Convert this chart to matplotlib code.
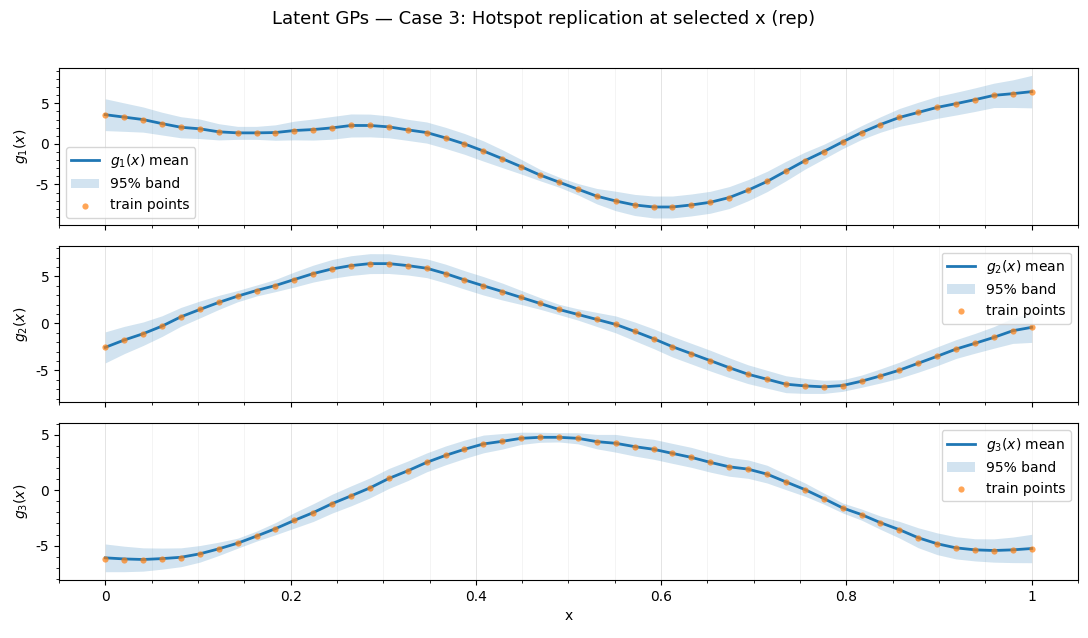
"""Latent GP posterior panels for case 3 (hotspot replication)."""

import matplotlib
matplotlib.use("Agg")
import matplotlib.pyplot as plt
import numpy as np
from matplotlib.ticker import AutoMinorLocator, FuncFormatter, MultipleLocator

plt.rcParams["axes.unicode_minus"] = False

# 50 training inputs on [0, 1]
X_TRAIN = np.linspace(0.0, 1.0, 50)

G1_MEAN = [3.6, 3.3, 3.0, 2.5, 2.05, 1.86, 1.49, 1.36, 1.36, 1.4,
           1.65, 1.77, 1.98, 2.27, 2.27, 2.1, 1.73, 1.40, 0.74, 0.0,
           -0.87, -1.82, -2.81, -3.84, -4.71, -5.58, -6.44, -7.03, -7.52, -7.77,
           -7.77, -7.52, -7.19, -6.61, -5.70, -4.63, -3.35, -2.07, -0.95, 0.25,
           1.40, 2.39, 3.26, 3.88, 4.50, 4.96, 5.45, 5.98, 6.19, 6.44]
G1_HALF = [1.96, 1.75, 1.55, 1.4, 1.3, 1.2, 1.0, 0.8, 0.8, 0.95,
           1.15, 1.3, 1.4, 1.42, 1.4, 1.35, 1.3, 1.3, 1.3, 1.28,
           1.25, 1.1, 0.9, 0.7, 0.62, 0.7, 0.95, 1.2, 1.3, 1.35,
           1.35, 1.35, 1.35, 1.35, 1.3, 1.25, 1.2, 1.05, 0.9, 0.83,
           0.85, 0.95, 1.1, 1.25, 1.35, 1.4, 1.45, 1.5, 1.7, 2.0]

G2_MEAN = [-2.55, -1.77, -1.1, -0.29, 0.70, 1.48, 2.23, 2.9, 3.5, 4.03,
           4.67, 5.3, 5.8, 6.15, 6.36, 6.36, 6.15, 5.87, 5.3, 4.63,
           4.0, 3.39, 2.76, 2.12, 1.48, 0.95, 0.42, -0.11, -0.85, -1.63,
           -2.48, -3.22, -3.96, -4.71, -5.41, -5.94, -6.47, -6.65, -6.75, -6.61,
           -6.15, -5.59, -4.98, -4.24, -3.5, -2.73, -2.12, -1.49, -0.78, -0.42]
G2_HALF = [1.65, 1.45, 1.25, 1.1, 1.0, 0.9, 0.75, 0.6, 0.58, 0.65,
           0.8, 0.9, 1.0, 1.05, 1.06, 1.05, 1.0, 1.0, 1.0, 0.98,
           0.98, 0.9, 0.75, 0.62, 0.55, 0.6, 0.75, 0.9, 1.0, 1.05,
           1.1, 1.1, 1.1, 1.05, 1.0, 0.95, 0.9, 0.8, 0.7, 0.62,
           0.65, 0.75, 0.85, 0.95, 1.0, 1.0, 1.05, 1.15, 1.35, 1.6]

G3_MEAN = [-6.1, -6.2, -6.25, -6.17, -6.05, -5.74, -5.29, -4.78, -4.14, -3.47,
           -2.72, -2.02, -1.21, -0.51, 0.21, 1.06, 1.75, 2.51, 3.14, 3.69,
           4.17, 4.41, 4.68, 4.77, 4.77, 4.68, 4.38, 4.23, 3.93, 3.69,
           3.32, 2.96, 2.51, 2.11, 1.90, 1.45, 0.75, 0.06, -0.75, -1.6,
           -2.2, -2.93, -3.56, -4.29, -4.83, -5.2, -5.38, -5.44, -5.38, -5.26]
G3_HALF = [1.25, 1.15, 1.05, 0.95, 0.85, 0.75, 0.6, 0.45, 0.45, 0.55,
           0.7, 0.8, 0.85, 0.9, 0.9, 0.9, 0.88, 0.85, 0.85, 0.83,
           0.8, 0.7, 0.55, 0.45, 0.42, 0.5, 0.65, 0.8, 0.85, 0.9,
           0.9, 0.9, 0.88, 0.85, 0.83, 0.8, 0.7, 0.6, 0.5, 0.45,
           0.5, 0.6, 0.75, 0.9, 0.98, 1.0, 1.0, 1.05, 1.15, 1.28]

# observed training values (sit on the posterior mean at this scale)
G1_TRAIN = list(G1_MEAN)
G2_TRAIN = list(G2_MEAN)
G3_TRAIN = [-6.19, -6.28, -6.28, -6.17, -6.1] + G3_MEAN[5:]

PANELS = [
    ("1", G1_MEAN, G1_HALF, G1_TRAIN, "lower left", (-9.95, 9.35)),
    ("2", G2_MEAN, G2_HALF, G2_TRAIN, "upper right", (-8.4, 8.27)),
    ("3", G3_MEAN, G3_HALF, G3_TRAIN, "upper right", (-8.1, 6.03)),
]


def main() -> None:
    fig, axes = plt.subplots(3, 1, figsize=(10.88, 6.38), dpi=100, sharex=True)
    fig.subplots_adjust(left=0.0542, right=0.9908, top=0.8934, bottom=0.0909,
                        hspace=0.134)

    fmt = FuncFormatter(lambda v, _: f"{v:g}")
    for ax, (k, mean, half, train, loc, ylim) in zip(axes, PANELS):
        mean = np.asarray(mean)
        half = np.asarray(half)
        ax.plot(X_TRAIN, mean, color="#1f77b4", linewidth=2.0,
                label=rf"$g_{k}(x)$ mean", zorder=3)
        ax.fill_between(X_TRAIN, mean - half, mean + half, color="#1f77b4",
                        alpha=0.2, linewidth=0, label="95% band", zorder=2)
        ax.scatter(X_TRAIN, train, s=20, color="#ff7f0e", alpha=0.7,
                   linewidths=0, label="train points", zorder=4)
        ax.set_ylabel(rf"$g_{k}(x)$")
        ax.set_ylim(*ylim)
        ax.yaxis.set_major_locator(MultipleLocator(5))
        ax.yaxis.set_minor_locator(AutoMinorLocator())
        ax.yaxis.set_major_formatter(fmt)
        ax.xaxis.set_major_locator(MultipleLocator(0.2))
        ax.xaxis.set_minor_locator(AutoMinorLocator())
        ax.xaxis.set_major_formatter(fmt)
        ax.grid(True, axis="x", which="major", color="#e4e4e4", linewidth=0.7)
        ax.grid(True, axis="x", which="minor", color="#f2f2f2", linewidth=0.6)
        ax.legend(loc=loc, fontsize=10)

    axes[-1].set_xlim(-0.05, 1.05)
    axes[-1].set_xlabel("x")
    fig.suptitle("Latent GPs — Case 3: Hotspot replication at selected x (rep)",
                 fontsize=13, y=0.985)

    fig.savefig("out.png", dpi=100, facecolor="white")
    plt.close(fig)


if __name__ == "__main__":
    main()
